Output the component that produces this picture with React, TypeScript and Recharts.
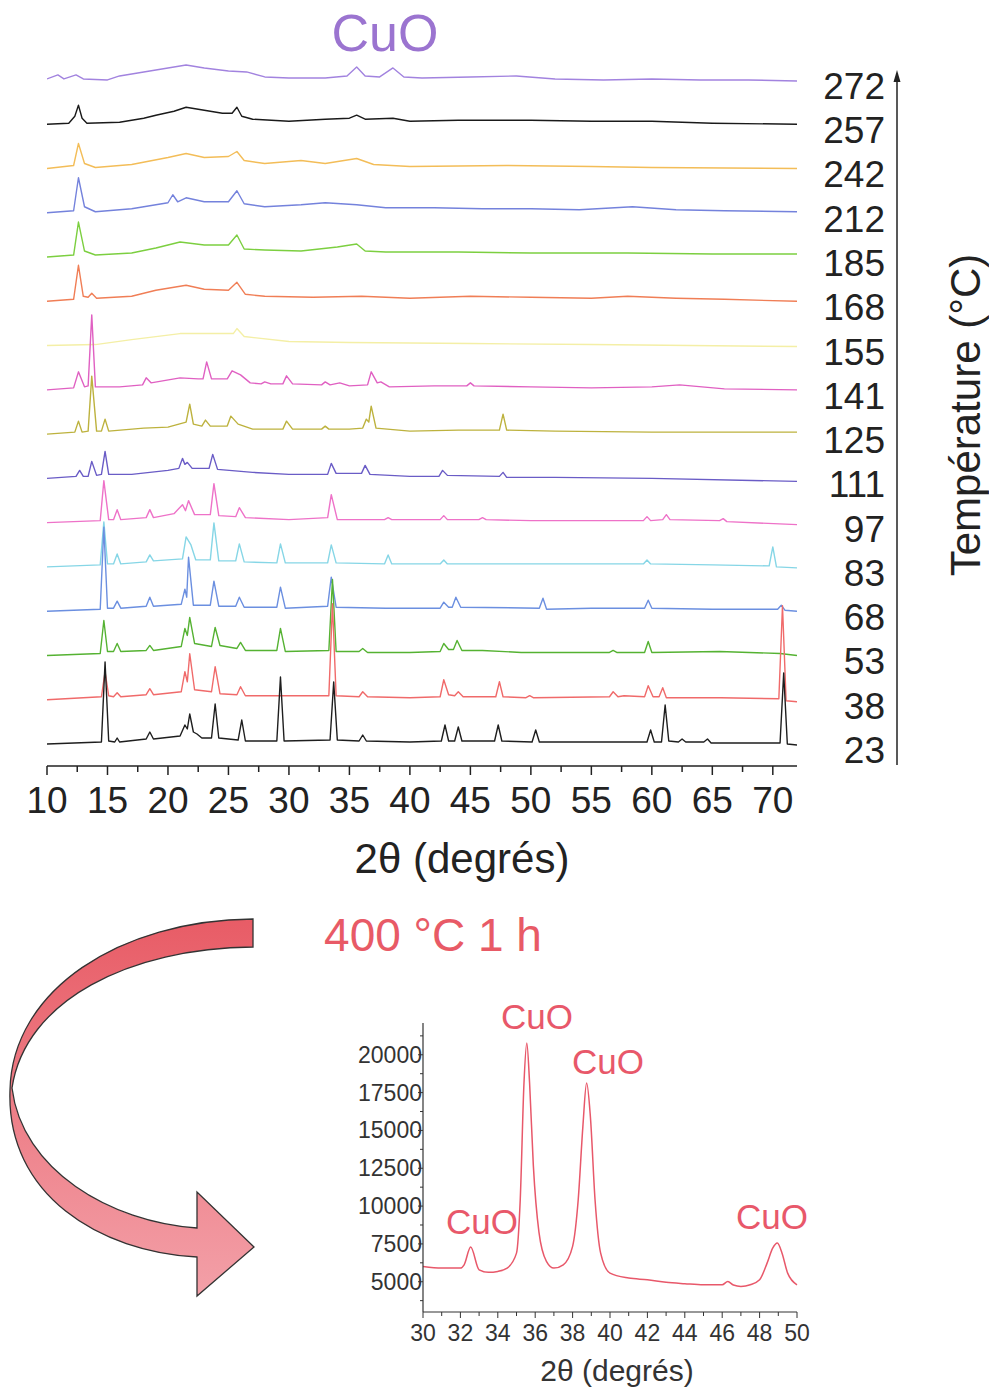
import React from "react";
import { LineChart, Line, XAxis, YAxis } from "recharts";

// 2θ (deg) / relative intensity (bottom = 23 °C)
const t23 = [[10,0],[14.5,2],[14.8,82],[15.1,3],[15.6,2],[15.8,6],[16.0,2],[18.2,5],[18.5,12],[18.8,5],[21.0,8],[21.4,19],[21.6,15],[21.8,30],[22.1,12],[22.4,10],[22.8,6],[23.6,6],[23.9,40],[24.2,6],[25.8,4],[26.1,24],[26.4,3],[29.0,3],[29.3,67],[29.6,3],[33.4,4],[33.7,62],[34.0,4],[35.8,3],[36.1,9],[36.4,3],[40,2],[42.6,3],[42.9,19],[43.2,3],[43.7,3],[44.0,17],[44.3,3],[47.0,3],[47.3,19],[47.6,3],[50.1,2],[50.4,14],[50.7,2],[54.5,2],[59.6,2],[59.9,14],[60.2,2],[60.8,2],[61.1,39],[61.4,3],[62.2,2],[62.5,5],[62.8,2],[64.3,2],[64.6,5],[64.9,1],[70.6,1],[70.9,71],[71.2,0],[72,-1]];
const t38 = [[10,0],[14.5,3],[14.8,28],[15.1,4],[15.5,3],[15.8,7],[16.1,3],[18.2,5],[18.5,11],[18.8,5],[21.1,8],[21.4,28],[21.6,18],[21.8,46],[22.2,10],[23.6,8],[23.9,33],[24.3,6],[25.7,5],[26.0,13],[26.4,4],[33.3,4],[33.6,96],[33.9,4],[35.8,3],[36.1,8],[36.5,3],[40,2],[42.5,3],[42.8,20],[43.2,5],[43.7,4],[44.0,8],[44.4,3],[47.1,3],[47.4,18],[47.7,3],[49.6,2],[49.9,4],[50.2,2],[56.5,3],[56.8,8],[57.2,3],[57.7,4],[59.4,3],[59.7,14],[60.1,3],[60.6,3],[60.9,12],[61.2,2],[65.7,2],[70.5,1],[70.8,94],[71.1,-1],[72,-2]];
const t53 = [[10,0],[14.4,2],[14.7,35],[15.0,4],[15.5,4],[15.8,12],[16.1,4],[18.2,5],[18.5,10],[18.8,5],[21.1,9],[21.4,27],[21.6,20],[21.8,38],[22.2,12],[23.6,9],[23.9,28],[24.3,10],[25.7,7],[26.0,13],[26.4,5],[29.0,5],[29.3,27],[29.7,4],[33.3,5],[33.6,76],[33.9,4],[35.8,4],[36.1,7],[36.5,3],[40,3],[42.5,4],[42.8,12],[43.2,6],[43.6,6],[43.9,15],[44.3,5],[46,5],[49.2,3],[56.5,3],[56.8,5],[57.1,3],[59.4,3],[59.7,14],[60,3],[65.6,4],[70.6,2],[72,0]];
const t68 = [[10,0],[14.4,2],[14.7,84],[15.0,3],[15.5,3],[15.8,10],[16.1,3],[18.2,5],[18.5,14],[18.8,5],[21.1,7],[21.4,22],[21.55,14],[21.7,54],[22.1,6],[23.5,6],[23.8,30],[24.2,5],[25.6,5],[25.9,14],[26.3,4],[29.0,4],[29.3,24],[29.7,3],[33.2,5],[33.5,34],[33.9,4],[38,3],[42.5,3],[42.8,9],[43.2,4],[43.5,4],[43.8,14],[44.2,4],[50.7,3],[51,13],[51.3,2],[55,3],[59.4,3],[59.7,11],[60,3],[65,2],[70.4,2],[70.7,6],[71.0,1],[72,0]];
const t83 = [[10,0],[14.4,2],[14.7,45],[15.0,3],[15.5,3],[15.8,13],[16.1,3],[18.2,5],[18.5,12],[18.8,6],[21.2,8],[21.5,30],[21.9,22],[22.3,7],[23.5,7],[23.8,44],[24.2,6],[25.6,6],[25.9,23],[26.3,5],[29.0,4],[29.3,23],[29.7,4],[33.2,4],[33.5,22],[33.9,4],[37.9,3],[38.2,12],[38.5,3],[42.5,3],[42.8,7],[43.1,3],[50,3],[59.3,3],[59.6,7],[59.9,3],[65,2],[69.7,1],[70.0,20],[70.3,0],[72,-1]];
const t97 = [[10,0],[14.4,2],[14.7,42],[15.1,3],[15.5,3],[15.8,13],[16.1,3],[18.2,5],[18.5,13],[18.8,5],[20.5,9],[21.2,18],[21.45,12],[21.7,22],[22.2,8],[23.5,8],[23.8,39],[24.2,7],[25.6,6],[25.9,15],[26.4,5],[30,3],[33.2,5],[33.5,28],[34,3],[37.9,3],[38.2,5],[38.5,3],[42.5,3],[42.8,7],[43.1,3],[45.7,3],[46,5],[46.3,3],[50,2],[55,2],[59.3,2],[59.6,6],[59.9,2],[60.9,3],[61.2,8],[61.5,3],[65.6,2],[65.9,4],[66.2,1],[72,-2]];
const t111 = [[10,0],[12.4,2],[12.7,8],[13.0,2],[13.4,2],[13.7,17],[14.1,3],[14.5,4],[14.8,27],[15.1,4],[17,4],[20,8],[20.9,10],[21.2,20],[21.4,14],[21.6,16],[22.0,10],[23,10],[23.4,10],[23.7,24],[24.1,9],[27,6],[30,4],[33.2,4],[33.5,15],[33.9,5],[36.0,5],[36.3,13],[36.7,4],[40,2],[42.4,2],[42.7,8],[43.1,3],[47.4,2],[47.7,6],[48,1],[52,1],[60,0],[72,-3]];
const t125 = [[10,0],[12.3,2],[12.6,13],[12.9,2],[13.4,3],[13.7,58],[14.1,3],[14.5,3],[14.8,15],[15.1,3],[18,6],[20,7],[21.5,12],[21.8,30],[22.1,10],[22.8,8],[23.1,14],[23.5,8],[24.9,8],[25.2,18],[25.8,10],[27,5],[29.5,5],[29.8,13],[30.3,5],[32.7,5],[33,8],[33.3,5],[35,5],[36.1,6],[36.4,15],[36.6,12],[36.8,28],[37.2,6],[40,3],[44,4],[47.4,4],[47.7,20],[48,4],[52,3],[60,2],[72,2]];
const t141 = [[10,0],[12.2,2],[12.6,18],[13.1,3],[13.4,4],[13.7,75],[14.0,3],[16,3],[17.9,5],[18.2,12],[18.6,7],[21,12],[22.5,11],[22.9,11],[23.2,28],[23.6,11],[24.9,11],[25.3,19],[26,15],[26.8,7],[27.7,6],[28,8],[28.5,6],[29.5,6],[29.8,14],[30.3,6],[32.7,5],[33,8],[33.4,5],[34.2,7],[35,4],[36.5,5],[36.8,18],[37.3,7],[37.6,8],[38.3,3],[42,4],[44.7,4],[45,7],[45.3,4],[50,3],[55,2],[60,3],[62.3,5],[66,1],[72,0]];
const t155 = [[10,0],[14,1],[17,6],[21,12],[24,12],[25.4,12],[25.7,17],[26.3,9],[30,4],[35,3],[45,2],[55,1],[72,-1]];
const t168 = [[10,0],[12.2,2],[12.6,36],[13.0,5],[13.4,4],[13.7,8],[14.1,3],[17,5],[19,11],[21.5,16],[23,12],[25,11],[25.7,19],[26.4,7],[28,5],[32,4],[36,5],[40,3],[45,5],[50,4],[55,3],[58,5],[62,3],[66,2],[72,0]];
const t185 = [[10,0],[12.2,2],[12.6,35],[13.1,6],[14,2],[17,4],[19,9],[21,15],[23,12],[25,12],[25.7,22],[26.3,8],[28,7],[31,6],[34,10],[35.6,13],[36.3,6],[38,5],[44,5],[50,4],[58,4],[65,3],[72,3]];
const t212 = [[10,0],[12.2,2],[12.6,35],[13.1,6],[14,1],[17,4],[20,10],[20.4,18],[20.8,11],[21.5,15],[23,11],[25,11],[25.7,22],[26.3,9],[28,6],[31,8],[33,10],[35.6,8],[38,5],[42,5],[46,4],[50,4],[54,3],[58.4,6],[62,3],[66,2],[72,1]];
const t242 = [[10,0],[12.2,3],[12.6,25],[13.1,5],[14,1],[17,4],[20,11],[21.5,15],[23,11],[25,12],[25.7,17],[26.3,8],[28,5],[31,8],[33,5],[35.6,10],[37,4],[40,2],[48,3],[55,2],[60,1],[72,0]];
const t257 = [[10,0],[11.8,1],[12.3,8],[12.6,19],[12.9,6],[13.3,1],[16,2],[18,6],[19,9],[20.5,13],[21.5,17],[23,14],[24.5,11],[25.3,11],[25.7,17],[26.1,8],[27,5],[30,3],[33,5],[35,6],[35.6,9],[36.3,5],[38.6,6],[40,3],[44,4],[50,4],[55,3],[60,3],[65,1],[72,0]];
const t272 = [[10,1],[10.9,5],[11.4,1],[12.4,5],[13,1],[15,0],[16,4],[18,8],[20,12],[21.5,15],[23,12],[25,9],[26.5,8],[28,3],[30,2],[33,2],[34.8,4],[35.6,13],[36.3,4],[37.5,3],[38.6,12],[39.5,3],[41,2],[45,3],[48.8,4],[52,1],[56,0],[60,1],[64,0],[68,0],[72,-1]];

const temps = [23, 38, 53, 68, 83, 97, 111, 125, 141, 155, 168, 185, 212, 242, 257, 272];
const patterns = [t23, t38, t53, t68, t83, t97, t111, t125, t141, t155, t168, t185, t212, t242, t257, t272];
const colors = ["#1e1e1e", "#f06a6a", "#55b232", "#6b8fe0", "#86d6e6", "#ee72c8", "#6a5cc6", "#bdb23e", "#e060c2", "#f4efa6", "#f07e56", "#7ccf40", "#7482dc", "#f3bd58", "#1a1a1a", "#a283df"];
const topTicks = [10, 12.5, 15, 17.5, 20, 22.5, 25, 27.5, 30, 32.5, 35, 37.5, 40, 42.5, 45, 47.5, 50, 52.5, 55, 57.5, 60, 62.5, 65, 67.5, 70];

// 400 °C 1 h pattern
const insetX = [30,31,32,32.2,32.55,33,33.5,34,34.5,35,35.2,35.4,35.55,35.7,35.9,36.2,36.6,37,37.5,38,38.3,38.55,38.75,38.95,39.2,39.5,40,41,42,43,44,45,46,46.3,46.6,47,47.5,48,48.4,48.7,48.95,49.2,49.5,50];
const insetY = [6010,5900,5900,6120,7290,5790,5620,5680,5900,6890,10420,18130,20770,18130,12690,8280,6350,5900,6120,7340,10420,15270,18130,15930,10420,6890,5570,5240,5130,4960,4870,4800,4800,5020,4780,4690,4800,5130,6230,7220,7560,6890,5570,4800];
const insetXTicks = [30,31,32,33,34,35,36,37,38,39,40,41,42,43,44,45,46,47,48,49,50];
const insetYTicks = [3750,5000,6250,7500,8750,10000,11250,12500,13750,15000,16250,17500,18750,20000,21250];

const BASE = 22;
const STEP = 44.27;
const FONT = "'Liberation Sans', Arial, sans-serif";

const TopXTick = (props: any) => {
  const { x, y, payload } = props;
  const major = payload.value % 5 === 0;
  return (
    <g>
      <line x1={x} x2={x} y1={y} y2={y + (major ? 9 : 6)} stroke="#222" strokeWidth={1.5} />
      {major && (
        <text x={x} y={y + 34} dy="0.35em" textAnchor="middle" fontSize={37} fill="#222" fontFamily={FONT}>
          {payload.value}
        </text>
      )}
    </g>
  );
};

const TempTick = (props: any) => {
  const { x, y, index } = props;
  return (
    <text x={x + 88} y={y + 6} dy="0.35em" textAnchor="end" fontSize={37} fill="#222" fontFamily={FONT}>
      {temps[index]}
    </text>
  );
};

const InsetXTick = (props: any) => {
  const { x, y, payload } = props;
  const major = payload.value % 2 === 0;
  return (
    <g>
      <line x1={x} x2={x} y1={y} y2={y + (major ? 6 : 4)} stroke="#333" strokeWidth={1} />
      {major && (
        <text x={x} y={y + 21} dy="0.35em" textAnchor="middle" fontSize={23} fill="#333" fontFamily={FONT}>
          {payload.value}
        </text>
      )}
    </g>
  );
};

const InsetYTick = (props: any) => {
  const { x, y, payload } = props;
  const major = payload.value % 2500 === 0;
  return (
    <g>
      <line x1={x - (major ? 5 : 3)} x2={x} y1={y} y2={y} stroke="#333" strokeWidth={1} />
      {major && (
        <text x={x - 1} y={y} dy="0.35em" textAnchor="end" fontSize={23} fill="#333" fontFamily={FONT}>
          {payload.value}
        </text>
      )}
    </g>
  );
};

export default function App() {
  const series = patterns.map((pts, i) => ({
    temp: temps[i],
    color: colors[i],
    data: pts.map(([x, v]) => ({ x, y: BASE + STEP * i + v })),
  }));
  const tempTicks = temps.map((_, i) => BASE + STEP * i);
  const insetData = insetX.map((x, i) => ({ x, y: insetY[i] }));

  return (
    <div style={{ position: "absolute", left: 0, top: 0, width: 989, height: 1387, background: "#fff", fontFamily: FONT }}>
      <div style={{ position: "absolute", left: 0, top: 0 }}>
        <LineChart width={989} height={890} margin={{ top: 50, right: 92, left: 47, bottom: 24 }}>
          <XAxis
            dataKey="x"
            type="number"
            domain={[10, 72]}
            ticks={topTicks}
            interval={0}
            height={100}
            tick={<TopXTick />}
            tickSize={0}
            tickMargin={0}
            axisLine={{ stroke: "#222", strokeWidth: 1.5 }}
            allowDataOverflow
          />
          <YAxis
            orientation="right"
            type="number"
            domain={[0, 716]}
            ticks={tempTicks}
            interval={0}
            width={100}
            tick={<TempTick />}
            tickSize={0}
            tickMargin={0}
            axisLine={false}
            allowDataOverflow
          />
          {series
            .slice()
            .reverse()
            .map((s) => (
              <Line
                key={s.temp}
                data={s.data}
                dataKey="y"
                type="linear"
                stroke={s.color}
                strokeWidth={1.4}
                strokeLinejoin="round"
                dot={false}
                isAnimationActive={false}
              />
            ))}
        </LineChart>
      </div>

      <div style={{ position: "absolute", left: 330, top: 990 }}>
        <LineChart width={480} height={397} data={insetData} margin={{ top: 33, right: 13, left: 13, bottom: 35 }}>
          <XAxis
            dataKey="x"
            type="number"
            domain={[30, 50]}
            ticks={insetXTicks}
            interval={0}
            height={40}
            tick={<InsetXTick />}
            tickSize={0}
            tickMargin={0}
            axisLine={{ stroke: "#333", strokeWidth: 1.2 }}
          />
          <YAxis
            type="number"
            domain={[3000, 22100]}
            ticks={insetYTicks}
            interval={0}
            width={80}
            tick={<InsetYTick />}
            tickSize={0}
            tickMargin={0}
            axisLine={{ stroke: "#333", strokeWidth: 1.2 }}
          />
          <Line dataKey="y" type="monotone" stroke="#e8586a" strokeWidth={1.5} dot={false} isAnimationActive={false} />
        </LineChart>
      </div>

      <svg width={989} height={1387} style={{ position: "absolute", left: 0, top: 0, pointerEvents: "none" }}>
        <defs>
          <linearGradient id="arrowFill" x1="0" y1="0" x2="0" y2="1">
            <stop offset="0%" stopColor="#e85c66" />
            <stop offset="100%" stopColor="#f3a0a8" />
          </linearGradient>
        </defs>
        <text x={385} y={33} dy="0.35em" textAnchor="middle" fontSize={52} fill="#9b74d0" fontFamily={FONT}>CuO</text>
        <text x={462} y={858} dy="0.35em" textAnchor="middle" fontSize={42} fill="#222" fontFamily={FONT}>2θ (degrés)</text>
        <line x1={897} y1={765} x2={897} y2={78} stroke="#222" strokeWidth={1.5} />
        <path d="M897,70 L893.5,82 L900.5,82 Z" fill="#222" />
        <text x={965} y={415} dy="0.35em" textAnchor="middle" fontSize={42} fill="#222" fontFamily={FONT} transform="rotate(-90 965 415)">
          Température (°C)
        </text>

        <path
          d="M253,919 L253,947 C130,948 25,1000 12,1088 C22,1170 110,1222 197,1228 L197,1192 L254,1247 L197,1296 L197,1257 C100,1252 6,1195 10,1090 C12,990 120,920 253,919 Z"
          fill="url(#arrowFill)"
          stroke="#333"
          strokeWidth={1.3}
        />
        <text x={433} y={935} dy="0.35em" textAnchor="middle" fontSize={46} fill="#e85a66" fontFamily={FONT}>400 °C 1 h</text>

        <text x={537} y={1017} dy="0.35em" textAnchor="middle" fontSize={35} fill="#e8586a" fontFamily={FONT}>CuO</text>
        <text x={608} y={1062} dy="0.35em" textAnchor="middle" fontSize={35} fill="#e8586a" fontFamily={FONT}>CuO</text>
        <text x={482} y={1222} dy="0.35em" textAnchor="middle" fontSize={35} fill="#e8586a" fontFamily={FONT}>CuO</text>
        <text x={772} y={1217} dy="0.35em" textAnchor="middle" fontSize={35} fill="#e8586a" fontFamily={FONT}>CuO</text>
        <text x={617} y={1370} dy="0.35em" textAnchor="middle" fontSize={30} fill="#333" fontFamily={FONT}>2θ (degrés)</text>
      </svg>
    </div>
  );
}
